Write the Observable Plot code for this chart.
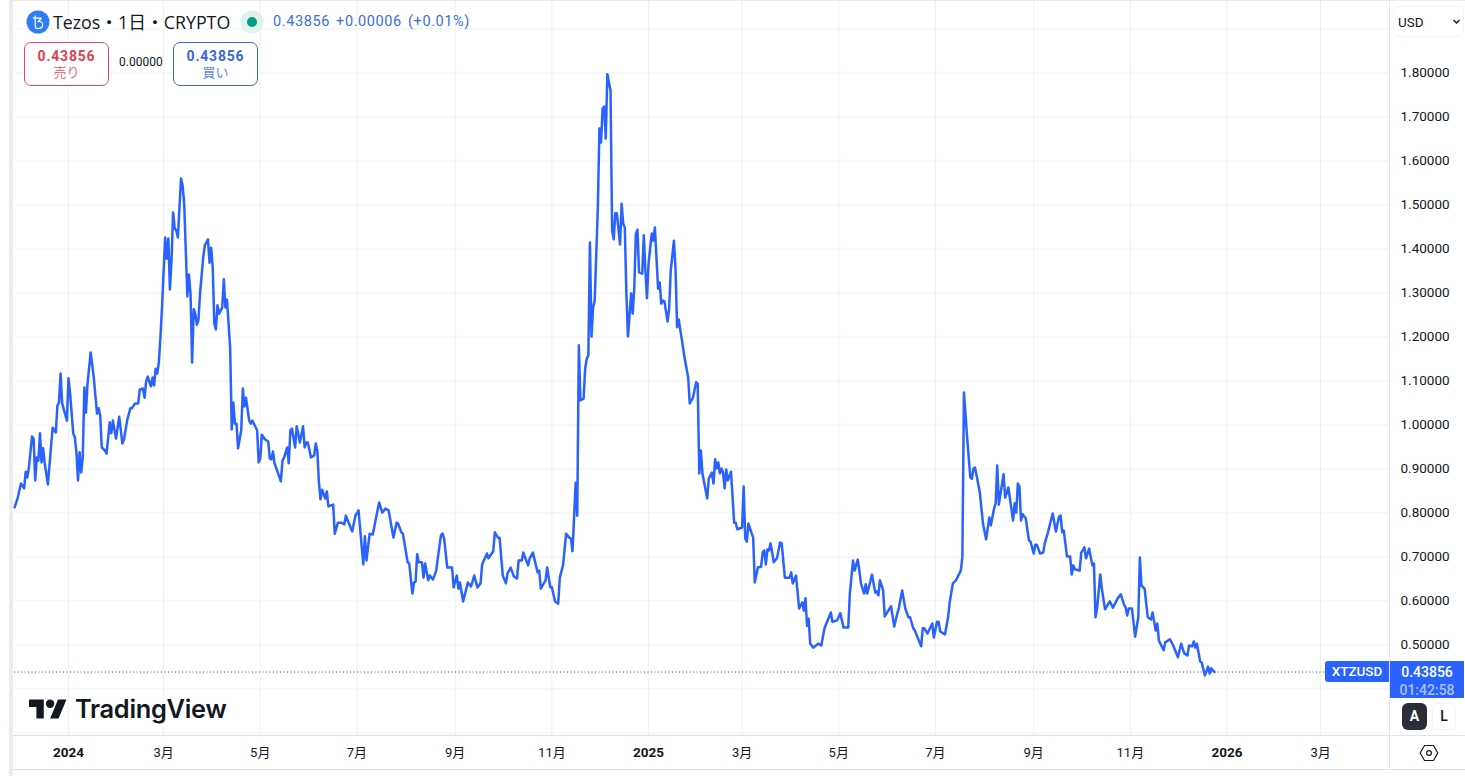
<!DOCTYPE html>
<html lang="ja">
<head>
<meta charset="utf-8">
<title>Tezos XTZUSD</title>
<script src="https://cdn.jsdelivr.net/npm/d3@7"></script>
<script src="https://cdn.jsdelivr.net/npm/@observablehq/plot@0.6"></script>
<style>
  html,body{margin:0;padding:0;background:#fff;overflow:hidden}
  #wrap{position:relative;width:1465px;height:776px;font-family:Roboto,"Noto Sans CJK JP",sans-serif;color:#131722}
  #wrap svg.plot{display:block}
  .abs{position:absolute;white-space:nowrap}
  .btn{position:absolute;box-sizing:border-box;top:42px;width:85px;height:44px;border:1px solid;border-radius:7px;text-align:center;background:#fff}
  .btn b{display:block;font-size:14px;line-height:16px;margin-top:5px;letter-spacing:.8px}
  .btn span{display:block;font-size:13px;line-height:17px}
</style>
</head>
<body>
<div id="wrap"></div>
<script>
// [day offset from 2024-01-01, price]
const earlyAndQ1 = [[-34,.813],[-32,.835],[-30,.867],[-28,.856],[-27,.894],[-26,.881],[-25,.903],[-23,.974],[-22,.969],[-21,.874],[-20,.926],[-19,.919],[-18,.981],[-17,.915],[-16,.947],[-15,.913],[-13,.865],[-10,.994],[-8,.983],[-7,1.044],[-6,1.051],[-5,1.117],[-4,1.049],[-1,1.010],[0,1.106],[1,1.072],[3,.981],[4,.972],[5,.938],[6,.874],[7,.938],[8,.892],[9,.926],[10,1.085],[11,1.028],[12,1.094],[14,1.165],[16,1.106],[18,1.026],[19,1.038],[20,1.022],[21,.949],[23,.942],[24,.935],[26,1.006],[27,.981],[28,1.010],[30,.969],[32,1.019],[34,.958],[35,.967],[37,1.010],[39,1.038],[40,1.038],[42,1.049],[44,1.049],[45,1.081],[47,1.083],[48,1.062],[49,1.099],[50,1.110],[52,1.088],[53,1.108],[54,1.090],[55,1.128],[56,1.117],[57,1.142],[58,1.199],[59,1.267],[61,1.426],[62,1.378],[63,1.424],[64,1.308],[65,1.374],[66,1.483],[67,1.447],[68,1.442],[69,1.426],[71,1.560],[72,1.544],[73,1.503],[75,1.292],[76,1.342],[77,1.299],[78,1.142],[79,1.263],[80,1.253],[81,1.228],[82,1.238],[83,1.299],[85,1.381],[86,1.408],[88,1.422],[89,1.369],[90,1.403]];
const spring2024 = [[91,1.358],[92,1.231],[93,1.217],[94,1.272],[95,1.253],[97,1.267],[98,1.331],[99,1.267],[100,1.285],[102,1.176],[103,.990],[104,1.051],[105,1.003],[106,1.003],[107,.947],[109,.988],[110,1.083],[111,1.042],[112,1.062],[114,1.010],[115,1.003],[116,1.010],[119,.988],[120,.915],[121,.924],[122,.978],[124,.967],[126,.963],[127,.924],[128,.922],[129,.940],[130,.913],[131,.903],[134,.872],[135,.919],[136,.926],[138,.949],[139,.913],[140,.988],[141,.992],[143,.949],[144,.997],[146,.960],[148,.997],[149,.949],[150,.960],[151,.960],[153,.926],[155,.931],[156,.958],[157,.942],[158,.869],[159,.831],[160,.853],[162,.833],[163,.849],[164,.815],[167,.819],[168,.753],[170,.778],[172,.778],[174,.774],[175,.794],[177,.776],[179,.758],[181,.794]];
const summer2024 = [[183,.806],[186,.683],[187,.747],[188,.692],[190,.753],[192,.751],[194,.788],[196,.824],[198,.801],[200,.810],[202,.806],[205,.744],[207,.778],[208,.776],[210,.756],[211,.753],[214,.688],[215,.685],[217,.617],[218,.642],[219,.644],[220,.706],[221,.688],[223,.688],[224,.653],[225,.685],[227,.647],[228,.658],[230,.649],[232,.669],[233,.697],[235,.749],[236,.753],[237,.742],[239,.676],[242,.676],[243,.631],[245,.658],[246,.628],[247,.642],[249,.599],[252,.642],[254,.633],[256,.658],[258,.631],[260,.640],[261,.683],[264,.708],[265,.697],[268,.713],[269,.756],[271,.744],[272,.744],[274,.658],[276,.640],[277,.663],[279,.676],[281,.656],[283,.651],[284,.692],[286,.692],[287,.710],[290,.681],[291,.697],[293,.710],[296,.665],[297,.669],[298,.628],[301,.647],[302,.676],[304,.631],[305,.631],[307,.599],[309,.594]];
const rally2024 = [[310,.653],[312,.681],[314,.753],[316,.744],[317,.742],[318,.713],[319,.790],[320,.869],[321,.794],[322,1.181],[323,1.056],[325,1.060],[326,1.128],[327,1.151],[328,1.158],[329,1.415],[330,1.201],[331,1.267],[332,1.283],[334,1.494],[335,1.674],[336,1.642],[337,1.719],[338,1.724],[339,1.651],[340,1.797],[342,1.760],[343,1.442],[344,1.422],[345,1.481],[346,1.481],[348,1.410],[349,1.503],[350,1.458],[351,1.449],[352,1.299],[353,1.201],[355,1.299],[356,1.253],[357,1.313],[358,1.435],[359,1.444],[360,1.347],[362,1.344],[363,1.431],[364,1.351],[365,1.288],[366,1.367]];
const winter2025 = [[368,1.435],[369,1.419],[370,1.449],[372,1.310],[373,1.324],[374,1.276],[375,1.283],[376,1.281],[378,1.235],[379,1.265],[380,1.351],[382,1.419],[383,1.356],[384,1.222],[385,1.240],[389,1.147],[391,1.108],[392,1.049],[394,1.062],[396,1.097],[397,1.094],[398,.890],[399,.942],[400,.890],[403,.833],[404,.878],[406,.892],[407,.867],[408,.922],[409,.901],[410,.915],[411,.890],[412,.901],[413,.892],[414,.856],[415,.899],[416,.874],[418,.894],[420,.778],[421,.778],[422,.763],[425,.767],[426,.860],[427,.742],[428,.735],[429,.776],[430,.765],[432,.744],[433,.642],[435,.676],[437,.678],[438,.710],[439,.715],[440,.683],[441,.717],[442,.715],[443,.731],[445,.688],[447,.697],[449,.733],[450,.731],[452,.653],[455,.653],[456,.665],[457,.640],[459,.658],[461,.583],[463,.597],[464,.578],[465,.606],[466,.544],[467,.560],[468,.503]];
const midyear2025 = [[470,.494],[473,.503],[475,.499],[477,.538],[481,.574],[482,.553],[485,.556],[487,.572],[489,.540],[492,.540],[493,.617],[495,.692],[496,.669],[498,.694],[499,.669],[500,.640],[502,.617],[503,.638],[504,.617],[507,.660],[509,.619],[510,.622],[511,.613],[512,.647],[514,.624],[515,.565],[519,.588],[521,.542],[523,.572],[524,.585],[526,.624],[528,.583],[530,.563],[531,.563],[533,.538],[534,.533],[536,.515],[538,.497],[539,.538],[540,.538],[542,.526],[545,.549],[546,.517],[548,.553],[549,.553],[550,.531],[553,.524],[555,.563],[556,.597],[558,.640],[560,.647],[563,.669],[564,.699],[565,1.074],[567,.972],[569,.881],[570,.878],[571,.901],[572,.903],[575,.847],[577,.776],[579,.740],[581,.790],[582,.772],[584,.810],[585,.822],[586,.908],[587,.819],[590,.888],[591,.835],[593,.858],[596,.783],[597,.822],[598,.801],[599,.867],[600,.860],[601,.783],[602,.797],[604,.788]];
const autumn2025 = [[606,.738],[607,.735],[609,.708],[610,.728],[611,.728],[613,.708],[615,.710],[616,.731],[618,.756],[621,.799],[623,.758],[625,.792],[626,.794],[627,.756],[628,.760],[630,.701],[632,.701],[633,.660],[634,.681],[635,.672],[638,.669],[639,.710],[641,.722],[642,.697],[644,.719],[646,.681],[647,.685],[648,.563],[649,.583],[651,.660],[652,.628],[654,.581],[657,.599],[659,.585],[662,.606],[664,.615],[666,.592],[667,.585],[668,.567],[669,.583],[671,.583],[673,.519],[675,.563],[676,.699],[677,.635],[679,.628],[680,.594],[681,.563],[683,.558],[684,.574],[686,.533],[687,.549],[688,.510],[691,.488],[692,.506],[695,.513],[697,.499],[700,.472],[702,.503],[704,.481],[706,.476],[707,.499],[709,.497],[710,.508],[711,.494],[712,.503],[714,.463],[715,.460],[717,.431],[719,.451],[720,.435],[721,.447],[723,.43856]];
const lastPrice = 0.43856;
const priceTicks = [0.5,0.6,0.7,0.8,0.9,1.0,1.1,1.2,1.3,1.4,1.5,1.6,1.7,1.8];
const priceGrid = [0.3,0.4,...priceTicks,1.9];
const monthTicks = [[2024,2,"3月"],[2024,4,"5月"],[2024,6,"7月"],[2024,8,"9月"],[2024,10,"11月"],[2025,2,"3月"],[2025,4,"5月"],[2025,6,"7月"],[2025,8,"9月"],[2025,10,"11月"],[2026,2,"3月"]];
const yearTicks = [[2024,0,"2024"],[2025,0,"2025"],[2026,0,"2026"]];
const dayDomain = [-34.07,833.5];
const priceDomain = [0.2943,1.9648];

const DAY = 864e5, T0 = Date.UTC(2024,0,1);
const toDate = d => new Date(T0 + d*DAY);
const tickDate = t => new Date(Date.UTC(t[0],t[1],1));
const series = [...earlyAndQ1,...spring2024,...summer2024,...rally2024,...winter2025,...midyear2025,...autumn2025]
  .map(([d,p])=>({date:toDate(d),price:p}));
const labelOf = new Map([...monthTicks,...yearTicks].map(t=>[+tickDate(t),t[2]]));
const tf = d => labelOf.get(+d);
const allTicks = [...monthTicks,...yearTicks].map(tickDate);

const chart = Plot.plot({
  width:1465,height:776,
  marginLeft:14,marginRight:76,marginTop:0,marginBottom:41,
  style:{background:"transparent",fontFamily:'Roboto,"Noto Sans CJK JP",sans-serif'},
  x:{type:"utc",domain:dayDomain.map(toDate)},
  y:{domain:priceDomain},
  marks:[
    Plot.gridX(allTicks,{stroke:"#eef0f6",strokeOpacity:1}),
    Plot.gridY(priceGrid,{stroke:"#eef0f6",strokeOpacity:1}),
    Plot.ruleY([lastPrice],{stroke:"#1f4fa8",strokeWidth:1,strokeDasharray:"1 2.5"}),
    Plot.line(series,{x:"date",y:"price",stroke:"#2962ff",strokeWidth:2.5,strokeLinejoin:"round"}),
    Plot.axisY(priceTicks,{anchor:"right",label:null,tickSize:0,tickPadding:11,fontSize:13.5,fill:"#131722",tickFormat:d=>d.toFixed(5)}),
    Plot.axisX(monthTicks.map(tickDate),{anchor:"bottom",label:null,tickSize:0,tickPadding:12,fontSize:13,fill:"#131722",tickFormat:tf}),
    Plot.axisX(yearTicks.map(tickDate),{anchor:"bottom",label:null,tickSize:0,tickPadding:12,fontSize:13.5,fontWeight:700,fill:"#131722",tickFormat:tf})
  ]
});

const wrap = document.getElementById("wrap");
wrap.appendChild(chart);
const overlay = document.createElement("div");
overlay.innerHTML = `
  <div class="abs" style="left:9px;top:0;width:4px;height:776px;background:#ececec"></div>
  <div class="abs" style="left:9px;top:0;width:1456px;height:1px;background:#ececec"></div>
  <div class="abs" style="left:1389px;top:0;width:1px;height:769px;background:#e0e3eb"></div>
  <div class="abs" style="left:13px;top:735px;width:1452px;height:1px;background:#e0e3eb"></div>
  <div class="abs" style="left:13px;top:769px;width:1452px;height:1px;background:#e0e3eb"></div>

  <svg class="abs" style="left:26px;top:10px" width="24" height="24" viewBox="0 0 24 24">
    <circle cx="12" cy="12" r="11.5" fill="#2e7cf6"/>
    <path d="M9.2 5.5v10.2c0 1.8 1 2.8 2.7 2.8 1.5 0 2-.5 2-.5M6.8 8.2h9M15.6 8.2l-3.6 3.3c2.6-.4 4.6.7 4.6 3 0 2.4-1.8 4-4.2 4" fill="none" stroke="#fff" stroke-width="1.2"/>
  </svg>
  <div class="abs" style="left:53px;top:11px;font-size:17.8px;line-height:23px;font-family:'Open Sans','Noto Sans CJK JP',sans-serif">Tezos・1日・CRYPTO</div>
  <svg class="abs" style="left:240px;top:10px" width="24" height="24"><circle cx="12" cy="12" r="11.5" fill="#dff2ec"/><circle cx="12" cy="12" r="5" fill="#089981"/></svg>
  <div class="abs" style="left:273px;top:13px;font-size:14.5px;line-height:18px;color:#3c6ee0;letter-spacing:.6px;word-spacing:2px">0.43856 +0.00006 (+0.01%)</div>

  <div class="btn" style="left:24px;border-color:#e04858;color:#e04050"><b>0.43856</b><span style="color:#e8707c">売り</span></div>
  <div class="abs" style="left:119px;top:55px;font-size:12px;line-height:15px">0.00000</div>
  <div class="btn" style="left:173px;border-color:#3a66d8;color:#3a66e0"><b>0.43856</b><span style="color:#5f86e6">買い</span></div>

  <div class="abs" style="left:1393px;top:6px;width:71px;height:31px;box-sizing:border-box;border:1px solid #f0f3fa;border-radius:6px;background:#fff"></div>
  <div class="abs" style="left:1398px;top:14px;font-size:13.5px;line-height:16px">USD</div>
  <svg class="abs" style="left:1452px;top:18px" width="10" height="8"><path d="M1.5 2 L4.5 5 L7.5 2" fill="none" stroke="#131722" stroke-width="1.4"/></svg>

  <div class="abs" style="left:1325px;top:661px;width:64px;height:21px;background:#2962ff;border-radius:3px 0 0 3px;color:#fff;font-size:13.5px;line-height:21px;text-align:center;font-weight:500">XTZUSD</div>
  <div class="abs" style="left:1390px;top:661px;width:74px;height:37px;background:#2962ff;text-align:center;font-size:14px;line-height:18px;color:#fff;font-weight:500"><div style="margin-top:2px">0.43856</div><div style="color:#a9c2ff">01:42:58</div></div>

  <div class="abs" style="left:1402px;top:703px;width:25px;height:27px;background:#2a2e39;border-radius:6px;color:#fff;text-align:center;line-height:27px;font-size:14px;font-weight:700">A</div>
  <div class="abs" style="left:1432px;top:703px;width:24px;height:27px;box-sizing:border-box;border:1px solid #f0f3fa;border-radius:6px;color:#131722;text-align:center;line-height:25px;font-size:14px;font-weight:500">L</div>

  <svg class="abs" style="left:1419px;top:744px" width="20" height="18" viewBox="0 0 20 18"><path d="M5.5 1.5h9L18.8 9l-4.3 7.5h-9L1.2 9z" fill="none" stroke="#131722" stroke-width="1.2"/><circle cx="10" cy="9" r="2.4" fill="none" stroke="#131722" stroke-width="1.2"/></svg>

  <svg class="abs" style="left:29px;top:698px" width="38" height="22" viewBox="0 3 36 20"><path fill="#131722" d="M14 22H7V11H0V4h14v18zM28 22h-8l7.5-18h8L28 22z"/><circle fill="#131722" cx="20" cy="8" r="4"/></svg>
  <div class="abs" style="left:75px;top:693px;font-family:Inter,sans-serif;font-weight:600;font-size:25.4px;line-height:32px;letter-spacing:-.3px;color:#131722">TradingView</div>
`;
wrap.appendChild(overlay);
</script>
</body>
</html>
